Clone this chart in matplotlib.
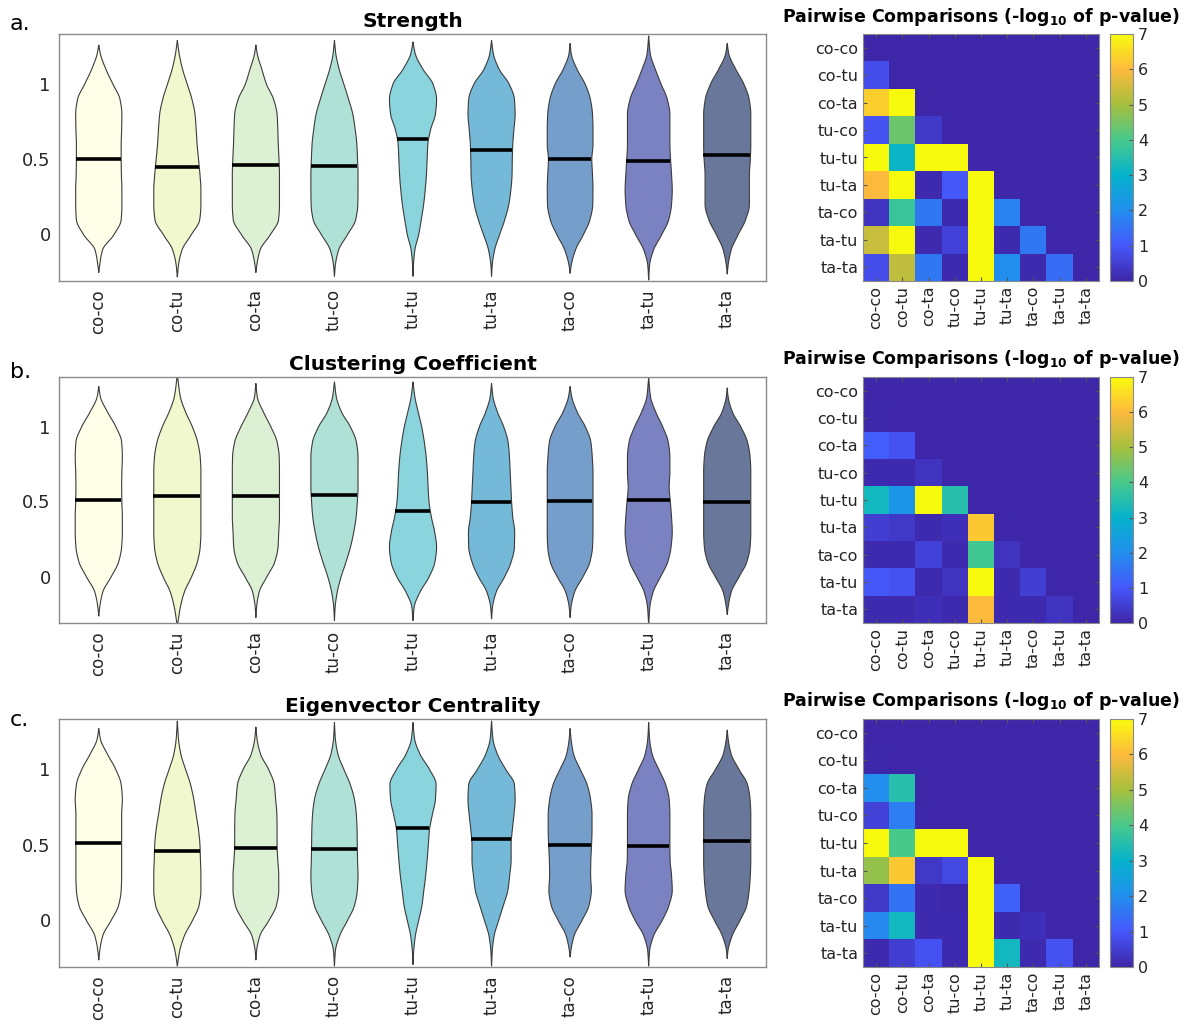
import numpy as np
import matplotlib
matplotlib.use("Agg")
import matplotlib.pyplot as plt
from matplotlib.colors import LinearSegmentedColormap

groups = ['co-co', 'co-tu', 'co-ta', 'tu-co', 'tu-tu', 'tu-ta', 'ta-co', 'ta-tu', 'ta-ta']
violin_colors = ['#fffee8', '#f1f8cd', '#dcf0d4', '#b0e1d6', '#8ad4dd',
                 '#74bad8', '#759ecb', '#7a82c1', '#68779a']

# density half-widths (relative) at these value levels, bottom to top
levels = [-0.2, -0.1, 0.0, 0.1, 0.2, 0.3, 0.4, 0.5, 0.6, 0.7, 0.8, 0.9, 1.0, 1.1, 1.2]

# ---- Strength ----
strength_medians = [0.50, 0.45, 0.46, 0.455, 0.63, 0.56, 0.50, 0.49, 0.525]
strength_ends = [(-0.25, 1.26), (-0.28, 1.29), (-0.25, 1.26), (-0.275, 1.29), (-0.275, 1.28),
                 (-0.275, 1.29), (-0.255, 1.27), (-0.30, 1.32), (-0.26, 1.27)]
strength_widths = [
    [0.04, 0.16, 0.64, 0.95, 0.98, 0.98, 0.96, 0.95, 0.95, 0.97, 0.98, 0.90, 0.60, 0.30, 0.07],
    [0.05, 0.20, 0.59, 0.95, 1.00, 1.00, 0.96, 0.90, 0.84, 0.80, 0.75, 0.62, 0.42, 0.22, 0.08],
    [0.04, 0.18, 0.61, 0.96, 1.00, 1.00, 1.00, 0.98, 0.95, 0.93, 0.90, 0.75, 0.45, 0.25, 0.06],
    [0.04, 0.18, 0.55, 0.90, 0.99, 1.00, 1.00, 0.98, 0.95, 0.88, 0.78, 0.60, 0.40, 0.20, 0.06],
    [0.02, 0.08, 0.24, 0.35, 0.45, 0.52, 0.57, 0.60, 0.63, 0.75, 0.95, 1.00, 0.85, 0.42, 0.10],
    [0.03, 0.13, 0.34, 0.56, 0.73, 0.82, 0.87, 0.88, 0.90, 0.95, 1.00, 0.97, 0.75, 0.32, 0.08],
    [0.05, 0.23, 0.56, 0.84, 0.96, 0.97, 0.95, 0.92, 0.97, 0.97, 0.95, 0.86, 0.64, 0.29, 0.05],
    [0.04, 0.21, 0.55, 0.85, 0.97, 1.00, 0.97, 0.93, 0.90, 0.90, 0.90, 0.79, 0.53, 0.28, 0.07],
    [0.04, 0.17, 0.46, 0.78, 0.94, 0.94, 0.94, 0.98, 1.00, 1.00, 1.00, 0.93, 0.71, 0.36, 0.07],
]

# ---- Clustering coefficient ----
clustering_medians = [0.51, 0.534, 0.534, 0.541, 0.437, 0.496, 0.505, 0.507, 0.498]
clustering_ends = [(-0.26, 1.27), (-0.33, 1.35), (-0.27, 1.29), (-0.29, 1.30), (-0.29, 1.30),
                   (-0.28, 1.29), (-0.27, 1.27), (-0.32, 1.33), (-0.25, 1.26)]
clustering_widths = [
    [0.04, 0.17, 0.52, 0.84, 0.97, 1.00, 1.00, 0.98, 0.97, 0.98, 1.00, 0.97, 0.73, 0.37, 0.07],
    [0.13, 0.30, 0.60, 0.85, 0.97, 1.00, 1.00, 1.00, 1.00, 1.00, 0.97, 0.86, 0.64, 0.35, 0.13],
    [0.03, 0.14, 0.46, 0.80, 0.94, 0.97, 1.00, 1.00, 1.00, 1.00, 0.99, 0.90, 0.64, 0.32, 0.06],
    [0.03, 0.12, 0.28, 0.49, 0.68, 0.82, 0.92, 0.97, 1.00, 1.00, 1.00, 0.93, 0.68, 0.30, 0.08],
    [0.05, 0.30, 0.68, 0.93, 1.00, 0.92, 0.78, 0.68, 0.64, 0.61, 0.56, 0.48, 0.37, 0.22, 0.08],
    [0.04, 0.20, 0.55, 0.83, 0.97, 0.98, 0.90, 0.85, 0.82, 0.79, 0.76, 0.70, 0.52, 0.25, 0.06],
    [0.04, 0.19, 0.54, 0.84, 0.95, 0.97, 0.97, 0.97, 0.97, 0.97, 0.94, 0.88, 0.65, 0.30, 0.07],
    [0.05, 0.19, 0.50, 0.81, 0.95, 1.00, 0.97, 0.92, 0.87, 0.90, 0.90, 0.83, 0.60, 0.30, 0.08],
    [0.04, 0.17, 0.50, 0.83, 0.97, 1.00, 1.00, 1.00, 1.00, 1.00, 0.97, 0.86, 0.58, 0.22, 0.04],
]

# ---- Eigenvector centrality ----
eigen_medians = [0.51, 0.455, 0.48, 0.473, 0.61, 0.537, 0.497, 0.489, 0.524]
eigen_ends = [(-0.26, 1.27), (-0.30, 1.32), (-0.26, 1.28), (-0.30, 1.31), (-0.29, 1.31),
              (-0.30, 1.32), (-0.24, 1.27), (-0.30, 1.31), (-0.25, 1.26)]
eigen_widths = [
    [0.04, 0.17, 0.52, 0.84, 0.95, 0.97, 0.97, 0.97, 0.97, 0.97, 1.00, 0.95, 0.72, 0.37, 0.07],
    [0.10, 0.30, 0.64, 0.92, 1.00, 1.00, 0.98, 0.96, 0.90, 0.80, 0.70, 0.56, 0.35, 0.15, 0.05],
    [0.03, 0.17, 0.55, 0.87, 0.97, 0.97, 0.93, 0.90, 0.90, 0.89, 0.84, 0.78, 0.54, 0.20, 0.05],
    [0.04, 0.22, 0.55, 0.85, 0.97, 1.00, 0.98, 0.97, 0.96, 0.93, 0.85, 0.67, 0.40, 0.15, 0.04],
    [0.03, 0.10, 0.24, 0.38, 0.46, 0.54, 0.60, 0.65, 0.70, 0.82, 0.95, 0.98, 0.70, 0.30, 0.07],
    [0.03, 0.11, 0.30, 0.50, 0.69, 0.77, 0.83, 0.83, 0.88, 0.95, 1.00, 0.97, 0.60, 0.25, 0.06],
    [0.03, 0.17, 0.50, 0.80, 0.90, 0.87, 0.88, 0.91, 0.93, 0.93, 0.87, 0.72, 0.43, 0.15, 0.04],
    [0.04, 0.21, 0.57, 0.86, 1.00, 0.97, 0.91, 0.90, 0.90, 0.90, 0.87, 0.72, 0.43, 0.15, 0.04],
    [0.03, 0.21, 0.54, 0.83, 0.93, 0.98, 1.00, 1.00, 1.00, 1.00, 0.97, 0.86, 0.50, 0.17, 0.04],
]

# ---- pairwise -log10(p) (lower triangle, row = group, col = group) ----
strength_p = [
    [0, 0, 0, 0, 0, 0, 0, 0, 0],
    [0.8, 0, 0, 0, 0, 0, 0, 0, 0],
    [6.3, 7, 0, 0, 0, 0, 0, 0, 0],
    [0.9, 4.4, 0.4, 0, 0, 0, 0, 0, 0],
    [7, 3.1, 7, 7, 0, 0, 0, 0, 0],
    [6.0, 7, 0.1, 1.0, 7, 0, 0, 0, 0],
    [0.3, 3.8, 1.6, 0.1, 7, 1.8, 0, 0, 0],
    [5.4, 7, 0.1, 0.6, 7, 0.1, 1.6, 0, 0],
    [0.8, 5.3, 1.6, 0.1, 7, 2.0, 0.1, 1.4, 0],
]
clustering_p = [
    [0, 0, 0, 0, 0, 0, 0, 0, 0],
    [0.05, 0, 0, 0, 0, 0, 0, 0, 0],
    [1.1, 0.9, 0, 0, 0, 0, 0, 0, 0],
    [0.1, 0.1, 0.3, 0, 0, 0, 0, 0, 0],
    [3.2, 2.2, 7, 3.5, 0, 0, 0, 0, 0],
    [0.5, 0.4, 0.1, 0.2, 6.2, 0, 0, 0, 0],
    [0.1, 0.1, 0.6, 0.1, 3.9, 0.3, 0, 0, 0],
    [1.0, 0.9, 0.1, 0.3, 7, 0.1, 0.5, 0, 0],
    [0.1, 0.1, 0.2, 0.1, 6.0, 0.1, 0.1, 0.3, 0],
]
eigen_p = [
    [0, 0, 0, 0, 0, 0, 0, 0, 0],
    [0.05, 0, 0, 0, 0, 0, 0, 0, 0],
    [2.0, 3.5, 0, 0, 0, 0, 0, 0, 0],
    [0.6, 1.7, 0, 0, 0, 0, 0, 0, 0],
    [7, 4.0, 7, 7, 0, 0, 0, 0, 0],
    [4.8, 6.2, 0.4, 0.7, 7, 0, 0, 0, 0],
    [0.4, 1.5, 0.1, 0.05, 7, 1.2, 0, 0, 0],
    [1.9, 3.2, 0.1, 0.1, 7, 0.1, 0.2, 0, 0],
    [0.1, 0.5, 0.9, 0.1, 7, 3.2, 0.1, 0.9, 0],
]

parula_anchors = [(0.242, 0.150, 0.660), (0.275, 0.345, 0.985), (0.130, 0.560, 0.930),
                  (0.020, 0.700, 0.800), (0.280, 0.790, 0.550), (0.650, 0.750, 0.240),
                  (0.990, 0.730, 0.240), (0.976, 0.983, 0.054)]
parula = LinearSegmentedColormap.from_list('parula_like', parula_anchors)

plt.rcParams['font.family'] = 'DejaVu Sans'
TXT = '#262626'
FRAME = '#8a8a8a'


def pchip(xk, yk, xs):
    xk = np.asarray(xk, float)
    yk = np.asarray(yk, float)
    h = np.diff(xk)
    d = np.diff(yk) / h
    m = np.zeros_like(yk)
    for i in range(1, len(xk) - 1):
        if d[i - 1] * d[i] > 0:
            w1 = 2 * h[i] + h[i - 1]
            w2 = h[i] + 2 * h[i - 1]
            m[i] = (w1 + w2) / (w1 / d[i - 1] + w2 / d[i])
    m[0] = d[0]
    m[-1] = d[-1]
    idx = np.clip(np.searchsorted(xk, xs) - 1, 0, len(h) - 1)
    t = (xs - xk[idx]) / h[idx]
    h00 = 2 * t**3 - 3 * t**2 + 1
    h10 = t**3 - 2 * t**2 + t
    h01 = -2 * t**3 + 3 * t**2
    h11 = t**3 - t**2
    return (h00 * yk[idx] + h10 * h[idx] * m[idx] + h01 * yk[idx + 1]
            + h11 * h[idx] * m[idx + 1])


def plot_violins(ax, widths, ends, medians, title):
    half = 0.30
    for i, name in enumerate(groups):
        lo, hi = ends[i]
        knots = [lo] + levels + [hi]
        vals = [0.0] + list(widths[i]) + [0.0]
        ys = np.linspace(lo, hi, 400)
        w = np.clip(pchip(knots, vals, ys), 0, None) * half
        ax.fill_betweenx(ys, i - w, i + w, facecolor=violin_colors[i],
                         edgecolor='#3c3c3c', linewidth=0.8, zorder=2)
        wm = np.clip(pchip(knots, vals, np.array([medians[i]])), 0, None)[0] * half
        ax.plot([i - wm, i + wm], [medians[i], medians[i]], color='black',
                linewidth=2.6, solid_capstyle='butt', zorder=3)
    ax.set_xlim(-0.5, len(groups) - 0.5)
    ax.set_ylim(-0.31, 1.33)
    ax.set_xticks(range(len(groups)))
    ax.set_xticklabels(groups, rotation=90, fontsize=12, color=TXT)
    ax.set_yticks([0, 0.5, 1])
    ax.set_yticklabels(['0', '0.5', '1'], fontsize=13, color=TXT)
    ax.tick_params(length=0, pad=6)
    for s in ax.spines.values():
        s.set_color(FRAME)
        s.set_linewidth(1.0)
    ax.set_title(title, fontsize=14.5, fontweight='bold', pad=5)


def plot_pairwise(ax, cax, values):
    im = ax.imshow(np.array(values), cmap=parula, vmin=0, vmax=7, aspect='auto',
                   interpolation='nearest')
    ax.set_xticks(range(len(groups)))
    ax.set_xticklabels(groups, rotation=90, fontsize=11.5, color=TXT)
    ax.set_yticks(range(len(groups)))
    ax.set_yticklabels(groups, fontsize=11.5, color=TXT)
    ax.tick_params(direction='in', length=3, color='#555555', top=True, right=True)
    for s in ax.spines.values():
        s.set_color(FRAME)
        s.set_linewidth(0.8)
    ax.set_title(r'Pairwise Comparisons (-log$_{\mathbf{10}}$ of p-value)',
                 fontsize=12.5, fontweight='bold', pad=9)
    cb = plt.colorbar(im, cax=cax, ticks=range(8))
    cb.ax.tick_params(direction='in', length=3, labelsize=11.5, labelcolor=TXT,
                      color='#555555')
    cb.outline.set_edgecolor(FRAME)
    cb.outline.set_linewidth(0.8)


fig = plt.figure(figsize=(11.86, 10.25), dpi=100)
W, H = 1186.0, 1025.0

panels = [
    ('a.', 'Strength', strength_widths, strength_ends, strength_medians, strength_p, 34, 281, 30),
    ('b.', 'Clustering Coefficient', clustering_widths, clustering_ends, clustering_medians,
     clustering_p, 377, 623, 378),
    ('c.', 'Eigenvector Centrality', eigen_widths, eigen_ends, eigen_medians, eigen_p,
     719, 967, 726),
]

for label, title, widths, ends, medians, pvals, top, bottom, lab_y in panels:
    b = 1 - bottom / H
    h = (bottom - top) / H
    ax_v = fig.add_axes([59 / W, b, 707 / W, h])
    plot_violins(ax_v, widths, ends, medians, title)
    ax_h = fig.add_axes([863 / W, b, 236 / W, h])
    cax = fig.add_axes([1110 / W, b, 23 / W, h])
    plot_pairwise(ax_h, cax, pvals)
    fig.text(10 / W, 1 - lab_y / H, label, fontsize=16, color='black', va='baseline')

fig.savefig('out.png', dpi=100)
